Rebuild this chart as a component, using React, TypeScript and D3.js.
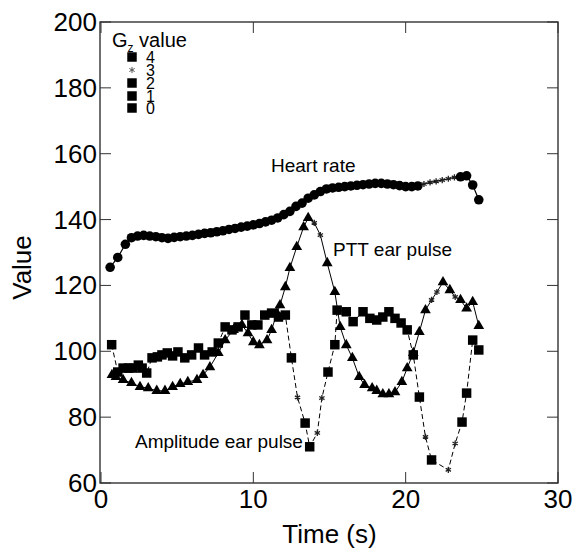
import React from "react";
import * as d3 from "d3";

// ---- data ----
const hrTime = [0.6, 1.1, 1.6, 2.0, 2.4, 2.8, 3.2, 3.6, 4.0, 4.4, 4.8, 5.2, 5.6, 6.0, 6.4, 6.8, 7.2, 7.6, 8.0, 8.4, 8.8, 9.2, 9.6, 10.0, 10.4, 10.8, 11.2, 11.6, 12.0, 12.4, 12.8, 13.2, 13.6, 14.0, 14.4, 14.8, 15.2, 15.6, 16.0, 16.4, 16.8, 17.2, 17.6, 18.0, 18.4, 18.8, 19.2, 19.6, 20.0, 20.4, 20.8, 21.2, 21.6, 22.0, 22.4, 22.8, 23.2, 23.6, 24.0, 24.4, 24.8];
const hrValue = [125.5, 128.5, 132.5, 134.5, 135, 135.2, 135, 134.8, 134.5, 134.3, 134.6, 134.8, 135, 135.2, 135.5, 135.8, 136, 136.3, 136.6, 137, 137.3, 137.7, 138, 138.4, 138.8, 139.3, 139.8, 140.5, 141.5, 142.5, 144, 145, 146.5, 147.5, 148.5, 149.3, 149.6, 149.8, 150, 150.2, 150.4, 150.6, 150.8, 151, 151, 150.8, 150.6, 150.3, 150, 150, 150.2, 150.8, 151.3, 151.6, 152, 152.4, 152.8, 153, 153.3, 150.5, 146];
const hrGz3 = [21.2, 21.6, 22.0, 22.4, 22.8, 23.2];

const pttTime = [0.72, 0.98, 1.45, 2.0, 2.56, 3.1, 3.66, 4.2, 4.7, 5.2, 5.7, 6.3, 6.7, 7.15, 7.7, 8.15, 8.7, 9.25, 9.65, 10.0, 10.4, 10.9, 11.2, 11.55, 11.75, 12.1, 12.4, 12.85, 13.3, 13.6, 14.0, 14.4, 14.85, 15.35, 15.7, 16.1, 16.5, 16.95, 17.3, 17.8, 18.1, 18.5, 18.9, 19.3, 19.75, 20.1, 20.5, 20.9, 21.3, 21.7, 22.05, 22.45, 22.9, 23.25, 23.6, 24.0, 24.4, 24.8];
const pttValue = [92.8, 92.2, 91.3, 90.4, 89.2, 88.8, 88, 88, 89.2, 90.1, 90.7, 91.3, 92.8, 95.2, 99.5, 103.4, 106.5, 108, 105.5, 102.8, 101.9, 103.4, 106.5, 111.6, 114, 119.5, 125.3, 131.7, 137.7, 140.5, 139, 135.3, 126.8, 118, 107.4, 101.9, 98, 92.2, 89.8, 88.8, 88, 87, 87, 87.6, 90.7, 94.9, 99.5, 105.9, 112.5, 115.6, 118, 121, 118.6, 116.5, 115.6, 113, 115, 107.7];
const pttGz3 = [14.0, 14.4, 21.7, 22.05, 23.25];

const ampTime = [0.7, 1.1, 1.45, 1.8, 2.1, 2.45, 2.7, 3.0, 3.35, 3.7, 4.0, 4.35, 4.7, 5.05, 5.5, 5.95, 6.4, 6.8, 7.3, 7.7, 8.15, 8.6, 9.0, 9.45, 9.9, 10.3, 10.75, 11.2, 11.65, 12.1, 12.5, 12.9, 13.4, 13.7, 14.2, 14.5, 14.9, 15.35, 15.5, 16.1, 16.55, 17.2, 17.65, 18.1, 18.5, 18.9, 19.3, 19.7, 20.1, 20.5, 20.9, 21.3, 21.7, 22.8, 23.25, 23.7, 24.0, 24.4, 24.8];
const ampValue = [102, 93.7, 94.9, 94.9, 94.9, 95.8, 94.9, 93.4, 98, 98.3, 98.9, 99.5, 98.6, 99.8, 98, 98.9, 101, 98.9, 99.8, 102.5, 107.4, 106.5, 107.4, 111, 108, 108, 111, 111.6, 110.4, 111, 98, 86, 78.2, 71, 75.2, 85.8, 93.7, 102, 112.5, 112, 109, 112, 110, 109.5, 110.4, 112, 110, 108.6, 106.5, 98.9, 86.1, 74, 67, 64, 72, 78.5, 87.3, 103.4, 100.4];
const ampGz3 = [12.9, 14.2, 14.5, 21.3, 22.8, 23.25];

const xTicks = [0, 10, 20, 30];
const yTicks = [60, 80, 100, 120, 140, 160, 180, 200];
const legendLabels = ["4", "3", "2", "1", "0"];

const FONT = "'Liberation Sans', Arial, Helvetica, sans-serif";

export default function App() {
  const left = 100, right = 558, top = 22, bottom = 483;
  const x = d3.scaleLinear().domain([0, 30]).range([left + 1, right]);
  const y = d3.scaleLinear().domain([60, 200]).range([bottom, top]);

  const mk = (t: number[], v: number[]) => t.map((tt, i) => [tt, v[i]] as [number, number]);
  const hr = mk(hrTime, hrValue);
  const ptt = mk(pttTime, pttValue);
  const amp = mk(ampTime, ampValue);

  const line = d3.line<[number, number]>().x((d) => x(d[0])).y((d) => y(d[1]));

  const circle = d3.symbol(d3.symbolCircle, 72)()!;
  const tri = d3.symbol(d3.symbolTriangle, 50)()!;
  const sq = d3.symbol(d3.symbolSquare, 90)()!;
  const star = d3.symbol(d3.symbolAsterisk, 26)()!;

  const isStar = (list: number[], t: number) => list.indexOf(t) >= 0;

  const renderMarks = (data: [number, number][], path: string, stars: number[], key: string) =>
    data.map((d, i) =>
      isStar(stars, d[0]) ? (
        <path key={key + i} d={star} transform={`translate(${x(d[0])},${y(d[1])})`} fill="none" stroke="#222" strokeWidth={1.3} />
      ) : (
        <path key={key + i} d={path} transform={`translate(${x(d[0])},${y(d[1])})`} fill="#000" />
      )
    );

  const tickLen = 11;
  const legendY = [57, 70, 83, 96, 108];

  return (
    <svg width={576} height={556} style={{ display: "block", position: "absolute", left: 0, top: 0 }} fontFamily={FONT}>
      <rect x={0} y={0} width={576} height={556} fill="#fff" />
      {/* frame */}
      <rect x={left} y={top} width={right - left} height={bottom - top} fill="none" stroke="#222" strokeWidth={1.3} />
      {/* ticks */}
      {yTicks.map((t) => (
        <g key={"yt" + t}>
          <line x1={left} x2={left + tickLen} y1={y(t)} y2={y(t)} stroke="#333" strokeWidth={1} />
          <line x1={right} x2={right - tickLen} y1={y(t)} y2={y(t)} stroke="#333" strokeWidth={1} />
          <text x={left - 3} y={y(t)} dy={9} textAnchor="end" fontSize={26} fill="#000">{t}</text>
        </g>
      ))}
      {xTicks.map((t) => (
        <g key={"xt" + t}>
          <line x1={x(t)} x2={x(t)} y1={bottom} y2={bottom - tickLen} stroke="#333" strokeWidth={1} />
          <line x1={x(t)} x2={x(t)} y1={top} y2={top + tickLen} stroke="#333" strokeWidth={1} />
          <text x={x(t)} y={bottom + 25} textAnchor="middle" fontSize={26} fill="#000">{t}</text>
        </g>
      ))}
      {/* axis titles */}
      <text x={x(15)} y={543} textAnchor="middle" fontSize={26} fill="#000">Time (s)</text>
      <text transform={`translate(31,${(top + bottom) / 2 + 15}) rotate(-90)`} textAnchor="middle" fontSize={26} fill="#000">Value</text>

      {/* lines */}
      <path d={line(hr)!} fill="none" stroke="#000" strokeWidth={1.2} />
      <path d={line(ptt)!} fill="none" stroke="#000" strokeWidth={1} />
      <path d={line(amp)!} fill="none" stroke="#000" strokeWidth={1} strokeDasharray="5,3" />

      {/* markers */}
      {renderMarks(hr, circle, hrGz3, "hr")}
      {renderMarks(ptt, tri, pttGz3, "pt")}
      {renderMarks(amp, sq, ampGz3, "am")}

      {/* annotations */}
      <text x={271} y={172} fontSize={19} fill="#000">Heart rate</text>
      <text x={333} y={256} fontSize={19} fill="#000">PTT ear pulse</text>
      <text x={135} y={448} fontSize={19} fill="#000">Amplitude ear pulse</text>

      {/* legend */}
      <text x={112} y={47} fontSize={20} fill="#000">
        G<tspan fontSize={12} dy={5}>z</tspan><tspan dy={-5}> value</tspan>
      </text>
      {legendLabels.map((lab, i) => (
        <g key={"lg" + lab}>
          {lab === "3" ? (
            <path d={star} transform={`translate(132,${legendY[i]})`} fill="none" stroke="#555" strokeWidth={1} />
          ) : (
            <path d={sq} transform={`translate(132,${legendY[i]})`} fill="#000" />
          )}
          <text x={146} y={legendY[i] + 6} fontSize={16} fill="#000">{lab}</text>
        </g>
      ))}
    </svg>
  );
}
